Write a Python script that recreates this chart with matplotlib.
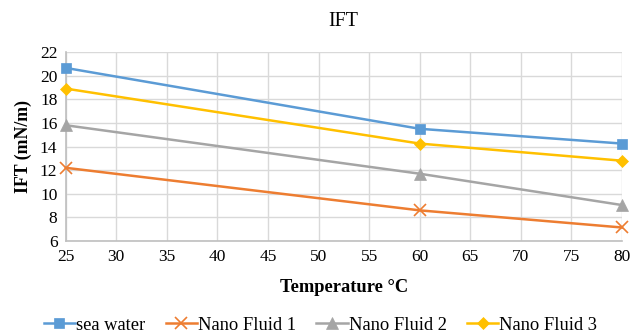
import matplotlib
matplotlib.use("Agg")
import matplotlib.pyplot as plt

plt.rcParams['font.family'] = ['Liberation Serif', 'DejaVu Serif']

# temperatures and IFT values
temperature = [25, 60, 80]
sea_water = [20.65, 15.5, 14.25]
nano_fluid_1 = [12.2, 8.6, 7.15]
nano_fluid_2 = [15.8, 11.7, 9.05]
nano_fluid_3 = [18.9, 14.25, 12.8]

series = [
    ("sea water", sea_water, "#5B9BD5", "s", 7.5),
    ("Nano Fluid 1", nano_fluid_1, "#ED7D31", "x", 8),
    ("Nano Fluid 2", nano_fluid_2, "#A5A5A5", "^", 8),
    ("Nano Fluid 3", nano_fluid_3, "#FFC000", "D", 6.5),
]

fig = plt.figure(figsize=(6.32, 3.33), dpi=100)
ax = fig.add_axes([0.104, 0.276, 0.880, 0.568])

for name, vals, color, marker, ms in series:
    ax.plot(temperature, vals, color=color, lw=1.8, marker=marker,
            markersize=ms, markeredgewidth=1.2 if marker == "x" else 0.5,
            markeredgecolor=color, label=name, clip_on=False, zorder=3)

ax.set_xlim(25, 80)
ax.set_ylim(6, 22)
ax.set_xticks(range(25, 81, 5))
ax.set_yticks(range(6, 23, 2))
ax.grid(True, color="#d9d9d9", lw=1)
ax.set_axisbelow(True)
ax.tick_params(length=0, labelsize=12.5, pad=6)
for side in ["top", "right"]:
    ax.spines[side].set_visible(False)
for side in ["left", "bottom"]:
    ax.spines[side].set_color("#bfbfbf")
    ax.spines[side].set_linewidth(1.2)

ax.set_title("IFT", fontsize=14.5, pad=19)
ax.set_xlabel("Temperature °C", fontsize=13.3, fontweight="bold", labelpad=10)
ax.set_ylabel("IFT (mN/m)", fontsize=12.8, fontweight="bold", labelpad=6)

ax.legend(loc="center", bbox_to_anchor=(0.458, -0.445), ncol=4,
          frameon=False, fontsize=13.3, handlelength=1.7,
          handletextpad=0.05, columnspacing=1.1, borderpad=0)

fig.savefig("out.png", dpi=100)
